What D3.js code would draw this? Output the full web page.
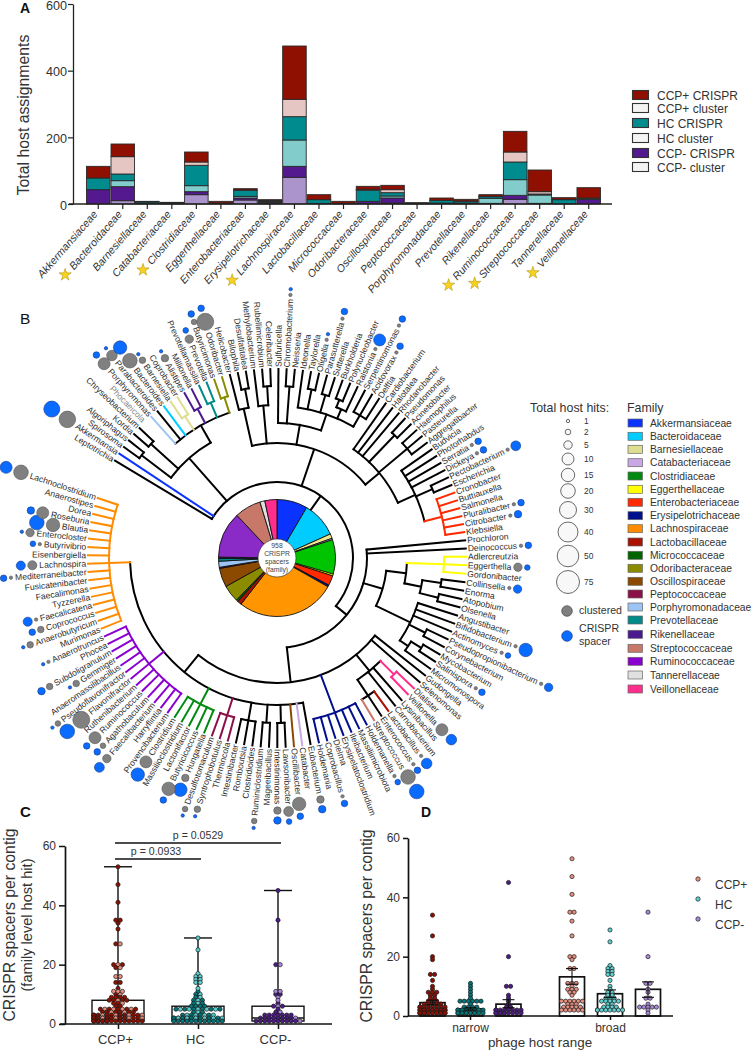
<!DOCTYPE html>
<html><head><meta charset="utf-8">
<script src="https://cdn.jsdelivr.net/npm/d3@7"></script>
<style>html,body{margin:0;background:#fff}svg{display:block}text{font-family:"Liberation Sans",Arial,sans-serif}</style>
</head><body><svg id="c" width="752" height="1050"></svg>
<script>
// ---------- Panel A data
const barFamilies=["Akkermansiaceae","Bacteroidaceae","Barnesiellaceae","Catabacteriaceae","Clostridiaceae","Eggerthellaceae","Enterobacteriaceae","Erysipelotrichaceae","Lachnospiraceae","Lactobacillaceae","Micrococcaceae","Odoribacteraceae","Oscillospiraceae","Peptococcaceae","Porphyromonadaceae","Prevotellaceae","Rikenellaceae","Ruminococcaceae","Streptococcaceae","Tannerellaceae","Veillonellaceae"];
const starred=["Bacteroidaceae","Clostridiaceae","Lachnospiraceae","Ruminococcaceae","Streptococcaceae","Veillonellaceae"];
const ccpMinusCluster=[0,10,0,1,28,0,12,2,80,0,0,1,3,0,0,0,0,14,1,0,0];
const ccpMinusCrispr =[43,42,2,1,9,1,6,3,33,2,1,7,15,0,2,3,2,12,1,1,14];
const hcCluster      =[0,18,0,0,18,0,5,1,79,0,0,0,6,0,1,0,15,47,25,0,0];
const hcCrispr       =[35,20,4,1,61,2,18,3,70,11,1,33,10,1,8,5,5,53,3,12,3];
const ccpPlusCluster =[0,52,0,0,10,0,1,1,52,0,0,3,9,1,0,1,1,30,7,1,1];
const ccpPlusCrispr  =[35,38,2,2,30,5,4,3,160,15,6,9,13,2,7,5,5,62,65,5,31];
const stackKeys=["CCP- cluster","CCP- CRISPR","HC cluster","HC CRISPR","CCP+ cluster","CCP+ CRISPR"];
const stackSeries=[ccpMinusCluster,ccpMinusCrispr,hcCluster,hcCrispr,ccpPlusCluster,ccpPlusCrispr];
const stackColors=["#ab93cc","#54188f","#82cccc","#008b8f","#e6c6c2","#8f1000"];
const legendAOrder=["CCP+ CRISPR","CCP+ cluster","HC CRISPR","HC cluster","CCP- CRISPR","CCP- cluster"];
const yTicksA=[0,200,400,600];

// ---------- Panel B data
const pieFamilies=["Akkermansiaceae","Bacteroidaceae","Barnesiellaceae","Catabacteriaceae","Clostridiaceae","Eggerthellaceae","Enterobacteriaceae","Erysipelotrichaceae","Lachnospiraceae","Lactobacillaceae","Micrococcaceae","Odoribacteraceae","Oscillospiraceae","Peptococcaceae","Porphyromonadaceae","Prevotellaceae","Rikenellaceae","Ruminococcaceae","Streptococcaceae","Tannerellaceae","Veillonellaceae"];
const pieSpacers=[81,94,12,4,91,5,26,5,262,11,5,45,50,3,16,7,4,122,70,13,32];
const legendFamilies=["Akkermansiaceae","Bacteroidaceae","Barnesiellaceae","Catabacteriaceae","Clostridiaceae","Eggerthellaceae","Enterobacteriaceae","Erysipelotrichaceae","Lachnospiraceae","Lactobacillaceae","Micrococcaceae","Odoribacteraceae","Oscillospiraceae","Peptococcaceae","Porphyromonadaceae","Prevotellaceae","Rikenellaceae","Streptococcaceae","Ruminococcaceae","Tannerellaceae","Veillonellaceae"];
const familyColors=["#0a33ff","#00ccff","#dede90","#c9a6e4","#008b10","#ffff00","#ff2a00","#000f8b","#ff8c00","#aa1100","#006400","#8b8b00","#8b4a00","#8b1048","#9cc4f5","#008b8b","#4b1a8f","#c87868","#8a00d0","#e0e0e0","#ff2d8c"];
const hitLegend=[1,2,5,10,15,20,30,40,50,75];
const hitRadius=[1.7,2.8,4.2,6,6.7,7.3,8.5,10,10.8,11.5];
const genusHits=[["Akkermansia",28,26],["Porphyromonas",10,3],["Parabacteroides",8,1],["Bacteroides",20,15],["Barnesiella",3,1],["Alistipes",4,1],["Prevotella",5,2],["Butyricimonas",2,3],["Odoribacter",30,3],["Chromobacterium",1,1],["Oligella",1,1],["Parasutterella",1,3],["Ralstonia",1,10],["Serpentinomonas",1,3],["Acidovorax",1,3],["Serratia",1,3],["Dickeya",1,3],["Pectobacterium",1,7],["Pluralibacter",1,3],["Citrobacter",1,4],["Deinococcus",1,3],["Eggerthella",5,2],["Collinsella",1,5],["Bifidobacterium",1,15],["Actinomyces",1,2],["Pseudopropionibacterium",1,5],["Salinispora",1,3],["Veillonella",10,8],["Lactobacillus",1,8],["Enterococcus",1,3],["Streptococcus",20,20],["Holdemanella",1,2],["Coprobacillus",1,3],["Eubacterium",4,4],["Oscillibacter",15,3],["Lawsonibacter",7,2],["Intestinimonas",4,4],["Ruminiclostridium",2,1],["Syntrophobotulus",3,1],["Desulfotomaculum",2,1],["Hungatella",4,15],["Butyricicoccus",15,3],["Clostridium",10,15],["Faecalibacterium",5,7],["Agathobaculum",2,3],["Ruminococcus",10,3],["Flavonifractor",30,20],["Pseudoflavonifractor",2,1],["Gemmiger",3,1],["Subdoligranulum",3,4],["Anaerotruncus",1,1],["Anaerobutyricum",3,1],["Coprococcus",3,3],["Faecalicatena",1,6],["Mediterraneibacter",1,3],["Lachnospira",6,6],["Butyrivibrio",1,2],["Enterocloster",5,1],["Blautia",15,20],["Roseburia",10,4],["Lachnoclostridium",20,10]];
// tree: N(branch depth, children...), F(family, node), L(leaf, family)
const N=(depth,...kids)=>({depth0:depth,children:kids.map(k=>typeof k==="string"?{name:k}:k)});
const F=(family,node)=>(node.family=family,node);
const L=(name,family)=>({name,family});
const taxonTree=N(76,
 "Leptotrichia",L("Akkermansia","Akkermansiaceae"),
 N(133,N(170,"Spirosoma","Algoriphagus"),N(170,"Kordia","Chryseobacterium"),{name:"Phocaeicola",noBranch:true},
  N(153,L("Porphyromonas","Porphyromonadaceae"),"Parabacteroides",L("Bacteroides","Bacteroidaceae"),
   F("Barnesiellaceae",N(169,"Barnesiella","Coprobacter")),F("Rikenellaceae",N(169,"Alistipes","Millionella")),
   F("Prevotellaceae",N(169,"Prevotellamassilia","Prevotella")),F("Odoribacteraceae",N(169,"Butyricimonas","Odoribacter")))),
 N(115,N(153,"Helicobacter",N(172,"Bilophila","Desulfatitalea")),
  N(153,"Methylobacterium",N(172,"Rubellimicrobium","Celeribacter")),
  N(135,"Sulfuricella",N(172,"Chromobacterium","Neisseria"),
   N(152,"Ideonella",N(172,"Taylorella","Oligella"),N(170,"Parasutterella","Sutterella"),N(162,N(170,"Burkholderia","Polynucleobacter"),"Ralstonia"),N(165,"Serpentinomonas","Acidovorax","Delftia"))),
  N(133,"Cardiobacterium","Halotalea","Rhodanobacter",N(170,"Pseudomonas","Acinetobacter"),N(170,"Haemophilus","Pasteurella","Aggregatibacter"),
   N(152,"Budvicia","Photorhabdus","Serratia","Dickeya",N(170,"Pectobacterium","Escherichia"),
    F("Enterobacteriaceae",N(170,"Cronobacter","Buttiauxella","Salmonella","Pluralibacter","Citrobacter","Klebsiella"))))),
 N(90,"Prochloron","Deinococcus",
  N(110,N(130,F("Eggerthellaceae",N(167,"Adlercreutzia","Eggerthella","Gordonibacter")),N(147,N(166,"Collinsella","Enorma"),N(166,"Atopobium","Olsenella"))),
   N(148,"Angustibacter","Bifidobacterium","Actinomyces",N(166,"Pseudopropionibacterium","Corynebacterium"),N(158,N(170,"Mycobacterium","Salinispora"),"Micromonospora"))),
  N(125,"Gudongella","Selenomonas",
   N(146,F("Veillonellaceae",N(165,"Dialister","Veillonella")),"Lysinibacillus","Carnobacterium",N(165,L("Lactobacillus","Lactobacillaceae"),"Enterococcus",L("Streptococcus","Streptococcaceae"))),
   F("Erysipelotrichaceae",N(165,"Holdemanella","Massiliimicrobiota","Ileibacterium","Erysipelatoclostridium","Dielma","Coprobacillus","Holdemania")),
   N(147,"Eubacterium",L("Catabacter","Catabacteriaceae"),L("Oscillibacter","Oscillospiraceae"),N(165,"Lawsonibacter","Intestinimonas"),N(165,"Mageeibacillus","Ruminiclostridium"),N(165,"Clostridioides","Romboutsia","Intestinibacter"),
    F("Peptococcaceae",N(165,"Thermincola","Syntrophobotulus","Desulfotomaculum")),
    F("Clostridiaceae",N(165,"Hungatella","Butyricicoccus","Lactonifactor","Massilioclostridium","Clostridium")),
    F("Ruminococcaceae",N(166,"Provencibacterium","Harryflintia","Faecalibacterium","Agathobaculum","Ruminococcus","Ruthenibacterium","Flavonifractor","Pseudoflavonifractor","Anaeromassilibacillus","Gemmiger","Subdoligranulum","Phocea","Anaerotruncus")),
    F("Lachnospiraceae",N(168,"Murimonas","Anaerobutyricum","Coprococcus","Faecalicatena","Tyzzerella","Faecalimonas","Fusicatenibacter","Mediterraneibacter","Lachnospira","Eisenbergiella","Butyrivibrio","Enterocloster","Blautia","Roseburia","Dorea","Anaerostipes","Lachnoclostridium"))))));

// ---------- Panels C, D data: [value, count]
const ccpPlusNarrow=[[34,1],[27,1],[20,1],[19,1],[14,2],[12,1],[10,1],[9,1],[8,3],[7,2],[6,2],[5,3],[4,5],[3,8],[2,14],[1,16]];
const hcNarrow=[[11,1],[10,1],[9,1],[8,1],[7,1],[6,1],[5,6],[4,1],[3,4],[2,10],[1,12]];
const ccpMinusNarrow=[[45,1],[20,1],[10,2],[7,1],[6,1],[5,1],[4,1],[3,2],[2,8],[1,10]];
const ccpPlusBroad=[[53,1],[47,1],[41,1],[35,2],[32,1],[27,1],[20,2],[19,1],[16,2],[11,3],[10,1],[9,3],[8,2],[7,1],[5,6],[4,3],[3,5],[2,6]];
const hcBroad=[[29,1],[25,1],[17,1],[16,2],[15,2],[14,2],[12,1],[10,1],[9,1],[8,2],[7,2],[6,3],[5,5],[4,2],[3,4],[2,8]];
const ccpMinusBroad=[[35,1],[20,1],[11,2],[9,1],[8,1],[6,2],[4,1],[3,5],[2,1],[1,1]];
const groupNames=["CCP+","HC","CCP-"];
const boxQ1=[1,1,1], boxMedian=[3,2,2], boxQ3=[8,6,6], boxMax=[53,29,45], boxMin=[1,1,1];
const pValues=["p = 0.0529","p = 0.0933"];
const rangeNames=["narrow","broad"];
const barMeans=[[4.5,2.4,4],[13.2,7.5,9]];
const barErrLow=[[3.8,2.0,2.8],[10.7,6.2,6.3]];
const barErrHigh=[[5.3,2.8,5.5],[16,8.8,11.5]];
const groupDark=["#8f1000","#00787c","#4f1a8a"], groupLight=["#e58f80","#5fd0d0","#a98ad8"];

const svg=d3.select("#c");
const INK="#333";
const panel=(t,x,y,fs,w)=>svg.append("text").attr("x",x).attr("y",y).attr("font-size",fs).attr("font-weight",w).attr("fill","#111").text(t);
panel("A",20,13,14,"bold");panel("B",20,324,15.5,"normal");panel("C",20,817,15,"bold");panel("D",421,817,14,"bold");

// ---------- Panel A
(function(){
 const g=svg.append("g");
 const rows=barFamilies.map((f,i)=>{const o={family:f};stackKeys.forEach((k,j)=>o[k]=stackSeries[j][i]);return o;});
 const x=d3.scaleBand().domain(barFamilies).range([86,601]).paddingInner(0.04).paddingOuter(0.02);
 const y=d3.scaleLinear().domain([0,600]).range([204,4]);
 const stacked=d3.stack().keys(stackKeys)(rows);
 g.selectAll("g.s").data(stacked).join("g").attr("fill",(d,i)=>stackColors[i])
  .selectAll("rect").data(d=>d).join("rect").attr("x",d=>x(d.data.family)).attr("width",x.bandwidth())
  .attr("y",d=>y(d[1])).attr("height",d=>Math.max(0,y(d[0])-y(d[1]))).attr("stroke","#2a2a2a").attr("stroke-width",.9);
 const ay=g.append("g").attr("transform","translate(73,0)").call(d3.axisLeft(y).tickValues(yTicksA).tickSize(5).tickSizeOuter(0));
 ay.select(".domain").attr("stroke","#222").attr("stroke-width",1.3);ay.selectAll("line").attr("stroke","#222").attr("stroke-width",1.2);
 ay.selectAll("text").attr("font-size",12.6).attr("fill",INK).attr("font-family","Liberation Sans").attr("x",-6).attr("dy","0.42em");
 const ax=g.append("g").attr("transform","translate(0,204)").call(d3.axisBottom(x).tickSize(5).tickSizeOuter(0));
 ax.select(".domain").remove();ax.selectAll("line").attr("stroke","#222").attr("stroke-width",1.2);
 g.append("line").attr("x1",69).attr("x2",612).attr("y1",204).attr("y2",204).attr("stroke","#222").attr("stroke-width",1.3);
 const rot=-49;
 ax.selectAll("text").attr("font-size",10.7).attr("font-style","italic").attr("fill",INK).attr("font-family","Liberation Sans")
  .attr("text-anchor","end").attr("transform",`translate(-3,8) rotate(${rot})`).attr("x",0).attr("y",0).attr("dy","0.35em");
 ax.selectAll(".tick").each(function(d){
  if(!starred.includes(d))return;
  const t=d3.select(this).select("text").node(),len=t.getComputedTextLength();
  d3.select(this).append("path").attr("d",d3.symbol(d3.symbolStar,48))
   .attr("transform",`translate(-3,8) rotate(${rot}) translate(${-len-9},0) rotate(${-rot})`)
   .attr("fill","#f8d21c").attr("stroke","#a88a10").attr("stroke-width",.5);
 });
 g.append("text").attr("transform","translate(29,115) rotate(-90)").attr("text-anchor","middle").attr("font-size",15.8).attr("fill",INK).text("Total host assignments");
 const ly=[95,108,123,138,153,167];
 legendAOrder.forEach((k,i)=>{
  const c=k.includes("cluster")?"#f6f4f2":stackColors[stackKeys.indexOf(k)];
  g.append("rect").attr("x",632.5).attr("y",ly[i]-4.5).attr("width",16).attr("height",9).attr("fill",c).attr("stroke","#333").attr("stroke-width",1.1);
  g.append("text").attr("x",657).attr("y",ly[i]+4.5).attr("font-size",12).attr("fill",INK).text(k);
 });
})();

// ---------- Panel B
(function(){
 const cx=277,cy=558,leafR=189,labelR=191,pieR=58.5,holeR=19;
 const g=svg.append("g").attr("transform",`translate(${cx},${cy})`);
 const colorOf=d3.scaleOrdinal().domain(legendFamilies).range(familyColors);
 const root=d3.hierarchy(taxonTree);
 const leaves=root.leaves();
 const angle=d3.scaleLinear().domain([0,60,91,138]).range([-59,89.6,169.8,288.5]);
 leaves.forEach((l,i)=>{l.a=angle(i);});
 root.eachAfter(n=>{
  if(n.children){const c=n.children.filter(k=>!k.data.noBranch);n.a=(c[0].a+c[c.length-1].a)/2;n.r=n.data.depth0;n.span=[c[0].a,c[c.length-1].a];}
  else n.r=leafR;
 });
 root.eachBefore(n=>{n.color=n.data.family?colorOf(n.data.family):(n.parent?n.parent.color:"#000");});
 const rad=a=>(a-90)*Math.PI/180, pt=(r,a)=>[r*Math.cos(rad(a)),r*Math.sin(rad(a))];
 const lines=g.append("g").attr("fill","none").attr("stroke-width",2).attr("stroke-linecap","square");
 const draw=root.descendants().filter(n=>!n.data.noBranch).sort((a,b)=>(a.color==="#000"?0:1)-(b.color==="#000"?0:1));
 draw.forEach(n=>{
  const p=d3.path();
  if(n.parent){const s=pt(n.parent.r,n.a),e=pt(n.r,n.a);p.moveTo(s[0],s[1]);p.lineTo(e[0],e[1]);}
  else{const s=pt(pieR,n.a),e=pt(n.r,n.a);p.moveTo(s[0],s[1]);p.lineTo(e[0],e[1]);}
  if(n.children){const s=pt(n.r,n.span[0]);p.moveTo(s[0],s[1]);p.arc(0,0,n.r,rad(n.span[0]),rad(n.span[1]));}
  lines.append("path").attr("d",p.toString()).attr("stroke",n.color);
 });
 // labels and hit dots
 const rScale=d3.scaleLinear().domain(hitLegend).range(hitRadius);
 const hits=new Map(genusHits.map(d=>[d[0],d]));
 const labels=g.append("g");
 leaves.forEach(l=>{
  const a=l.a,norm=((a%360)+360)%360,right=norm<180;
  const [x,y]=pt(labelR,a);
  const t=labels.append("text").attr("transform",`translate(${x},${y}) rotate(${right?a-90:a+90})`)
   .attr("text-anchor",right?"start":"end").attr("dy","0.34em").attr("font-size",8.6)
   .attr("fill",l.data.noBranch?"#8a8a8a":"#2e2e2e").text(l.data.name);
  const h=hits.get(l.data.name);
  if(h){
   const len=t.node().getComputedTextLength(),rg=rScale(h[1]),rb=rScale(h[2]);
   const rg0=labelR+len+2.4+rg,rb0=rg0+rg+2.4+rb;
   const pg=pt(rg0,a),pb=pt(rb0,a);
   labels.append("circle").attr("cx",pg[0]).attr("cy",pg[1]).attr("r",rg).attr("fill","#808080").attr("stroke","#555").attr("stroke-width",.6);
   labels.append("circle").attr("cx",pb[0]).attr("cy",pb[1]).attr("r",rb).attr("fill","#0a6cff").attr("stroke","#1a3a8a").attr("stroke-width",.6);
  }
 });
 // pie
 const pie=d3.pie().sort(null).value(d=>d)(pieSpacers);
 const arc=d3.arc().innerRadius(0).outerRadius(pieR);
 const pieColor=i=>({Clostridiaceae:"#00c400",Lachnospiraceae:"#ff9500",Ruminococcaceae:"#8a2bc8",Barnesiellaceae:"#f0e88a"}[pieFamilies[i]]||colorOf(pieFamilies[i]));
 g.selectAll("path.p").data(pie).join("path").attr("d",arc).attr("fill",(d,i)=>pieColor(i)).attr("stroke","#111").attr("stroke-width",.9);
 g.append("circle").attr("r",holeR).attr("fill","#fff").attr("stroke","#222").attr("stroke-width",.6);
 ["958","CRISPR","spacers","(family)"].forEach((s,i)=>g.append("text").attr("text-anchor","middle").attr("y",-10.4+i*8.1).attr("font-size",6.8).attr("fill","#444").text(s));
 // legends
 const lg=svg.append("g");
 lg.append("text").attr("x",530).attr("y",412).attr("font-size",12.4).attr("fill",INK).text("Total host hits:");
 lg.append("text").attr("x",627).attr("y",412).attr("font-size",12.4).attr("fill",INK).text("Family");
 const hy=[421,432,445,459,475,491,510,532,556,582];
 hitLegend.forEach((v,i)=>{
  lg.append("circle").attr("cx",568).attr("cy",hy[i]).attr("r",rScale(v)).attr("fill","#f8f8f8").attr("stroke","#444").attr("stroke-width",.8);
  lg.append("text").attr("x",584).attr("y",hy[i]+3).attr("font-size",8.4).attr("fill",INK).text(v);
 });
 lg.append("circle").attr("cx",567).attr("cy",611).attr("r",5.3).attr("fill","#808080").attr("stroke","#444").attr("stroke-width",.7);
 lg.append("circle").attr("cx",567).attr("cy",636).attr("r",5.3).attr("fill","#0a6cff").attr("stroke","#1a3a8a").attr("stroke-width",.7);
 lg.append("text").attr("x",579).attr("y",614).attr("font-size",10.6).attr("fill",INK).text("clustered");
 lg.append("text").attr("x",579).attr("y",632).attr("font-size",10.6).attr("fill",INK).text("CRISPR");
 lg.append("text").attr("x",579).attr("y",645).attr("font-size",10.6).attr("fill",INK).text("spacer");
 const fy=[423,436.3,449.3,462.7,476,489.3,502.3,515.7,528.7,542,555.3,568.3,581.3,594,607,620,634.3,648.3,661.3,675,689];
 legendFamilies.forEach((f,i)=>{
  lg.append("rect").attr("x",628).attr("y",fy[i]-4).attr("width",14.5).attr("height",8).attr("fill",colorOf(f)).attr("stroke","#666").attr("stroke-width",.7);
  lg.append("text").attr("x",650).attr("y",fy[i]+3.6).attr("font-size",10.3).attr("fill",INK).text(f);
 });
})();

// ---------- shared swarm: points on a fixed grid, overflowing onto the same columns
function rowOffsets(n,cols,spacing){
 const out=[],m=Math.min(n,cols);
 for(let i=0;i<n;i++)out.push(((i%m)-(m-1)/2)*spacing);
 return out;
}
function swarm(rows,cols,spacing){
 const out=[];
 rows.forEach(([v,n])=>rowOffsets(n,cols,spacing).forEach(dx=>out.push({v,dx})));
 return out;
}
function merged(a,b){
 const m=new Map();a.forEach(([v,n])=>{m.set(v,(m.get(v)||[0,0]));m.get(v)[0]+=n;});b.forEach(([v,n])=>{m.set(v,(m.get(v)||[0,0]));m.get(v)[1]+=n;});
 return [...m.entries()].map(([v,c])=>({v,dark:c[0],light:c[1]}));
}
const styleAxis=(a,fs)=>{a.select(".domain").attr("stroke","#111").attr("stroke-width",1.7);a.selectAll("line").attr("stroke","#111").attr("stroke-width",1.5);a.selectAll("text").attr("font-size",fs).attr("fill",INK).attr("font-family","Liberation Sans");};

// ---------- Panel C
(function(){
 const g=svg.append("g");
 const x=d3.scalePoint().domain(groupNames).range([118,278]);
 const y=d3.scaleLinear().domain([0,60]).range([1024,846]);
 const narrow=[ccpPlusNarrow,hcNarrow,ccpMinusNarrow],broad=[ccpPlusBroad,hcBroad,ccpMinusBroad];
 groupNames.forEach((n,i)=>{
  const cxx=x(n),hw=26;
  g.append("rect").attr("x",cxx-hw).attr("width",hw*2).attr("y",y(boxQ3[i])).attr("height",y(boxQ1[i])-y(boxQ3[i])).attr("fill","#fff").attr("stroke","#111").attr("stroke-width",1.4);
  g.append("line").attr("x1",cxx).attr("x2",cxx).attr("y1",y(boxMin[i])).attr("y2",y(boxMax[i])).attr("stroke","#111").attr("stroke-width",1.4);
  g.append("line").attr("x1",cxx-14).attr("x2",cxx+14).attr("y1",y(boxMax[i])).attr("y2",y(boxMax[i])).attr("stroke","#111").attr("stroke-width",1.4);
  g.append("line").attr("x1",cxx-hw).attr("x2",cxx+hw).attr("y1",y(boxMedian[i])).attr("y2",y(boxMedian[i])).attr("stroke","#111").attr("stroke-width",1.4);
  merged(narrow[i],broad[i]).forEach(row=>{
   const total=row.dark+row.light,off=rowOffsets(total,12,4.4);
   const every=row.light>0?Math.max(1,Math.round(total/row.light)):0;
   off.forEach((dx,k)=>{
    const isLight=row.dark===0?row.v<30:(every>1&&k%every===every-1);
    g.append("circle").attr("cx",cxx+dx).attr("cy",y(row.v)).attr("r",2.1)
     .attr("fill",isLight?groupLight[i]:groupDark[i]).attr("stroke","#1a1a1a").attr("stroke-width",.7);
   });
  });
 });
 const ay=g.append("g").attr("transform","translate(65,0)").call(d3.axisLeft(y).tickValues([0,20,40,60]).tickSize(6).tickSizeOuter(0));styleAxis(ay,12);
 const ax=g.append("g").attr("transform","translate(0,1024)").call(d3.axisBottom(x).tickSize(5).tickSizeOuter(0));ax.select(".domain").remove();ax.selectAll("line").attr("stroke","#111").attr("stroke-width",1.5);
 ax.selectAll("text").attr("font-size",13).attr("fill",INK).attr("font-family","Liberation Sans").attr("dy","0.95em").attr("x",-3);
 g.append("line").attr("x1",60).attr("x2",332).attr("y1",1024).attr("y2",1024).attr("stroke","#111").attr("stroke-width",1.7);
 [[0,2,843,839],[0,1,859,855]].forEach(([a,b,ly,ty],i)=>{
  const x1=x(groupNames[a])-3,x2=x(groupNames[b])+3;
  g.append("line").attr("x1",x1).attr("x2",x2).attr("y1",ly).attr("y2",ly).attr("stroke","#111").attr("stroke-width",1.4);
  g.append("text").attr("x",i?156:198).attr("y",ty).attr("text-anchor","middle").attr("font-size",10.6).attr("fill",INK).text(pValues[i]);
 });
 g.append("text").attr("transform","translate(15,925) rotate(-90)").attr("text-anchor","middle").attr("font-size",15.8).attr("fill",INK).text("CRISPR spacers per contig");
 g.append("text").attr("transform","translate(32,925) rotate(-90)").attr("text-anchor","middle").attr("font-size",14.6).attr("fill",INK).text("(family level host hit)");
})();

// ---------- Panel D
(function(){
 const g=svg.append("g");
 const x0=d3.scalePoint().domain(rangeNames).range([470,610]);
 const x1=d3.scalePoint().domain(groupNames).range([-38,38]);
 const y=d3.scaleLinear().domain([0,60]).range([1016,838]);
 const sets=[[ccpPlusNarrow,hcNarrow,ccpMinusNarrow],[ccpPlusBroad,hcBroad,ccpMinusBroad]];
 rangeNames.forEach((rn,r)=>groupNames.forEach((gn,i)=>{
  const cxx=x0(rn)+x1(gn)+(r?0:0.5);
  g.append("rect").attr("x",cxx-12.5).attr("width",25).attr("y",y(barMeans[r][i])).attr("height",y(0)-y(barMeans[r][i])).attr("fill","none").attr("stroke","#111").attr("stroke-width",1.7);
  const col=r?groupLight[i]:groupDark[i];
  swarm(sets[r][i],7,4.2).forEach(p=>g.append("circle").attr("cx",cxx+p.dx).attr("cy",y(p.v)).attr("r",2.1).attr("fill",col).attr("stroke","#1a1a1a").attr("stroke-width",.7));
  [barErrLow[r][i],barErrHigh[r][i]].forEach(v=>g.append("line").attr("x1",cxx-6).attr("x2",cxx+6).attr("y1",y(v)).attr("y2",y(v)).attr("stroke","#111").attr("stroke-width",1.1));
  g.append("line").attr("x1",cxx).attr("x2",cxx).attr("y1",y(barErrLow[r][i])).attr("y2",y(barErrHigh[r][i])).attr("stroke","#111").attr("stroke-width",1.1);
 }));
 const ay=g.append("g").attr("transform","translate(408,0)").call(d3.axisLeft(y).tickValues([0,20,40,60]).tickSize(5).tickSizeOuter(0));styleAxis(ay,12);
 const ax=g.append("g").attr("transform","translate(0,1016)").call(d3.axisBottom(x0).tickSize(4).tickSizeOuter(0));ax.select(".domain").remove();ax.selectAll("line").attr("stroke","#111").attr("stroke-width",1.5);
 ax.selectAll("text").attr("font-size",12).attr("fill",INK).attr("font-family","Liberation Sans").attr("dy","0.75em");
 g.append("line").attr("x1",408).attr("x2",673).attr("y1",1016).attr("y2",1016).attr("stroke","#111").attr("stroke-width",1.7);
 g.append("text").attr("x",540).attr("y",1047).attr("text-anchor","middle").attr("font-size",13.4).attr("fill",INK).text("phage host range");
 g.append("text").attr("transform","translate(372,926) rotate(-90)").attr("text-anchor","middle").attr("font-size",15.8).attr("fill",INK).text("CRISPR spacers per contig");
 groupNames.forEach((n,i)=>{
  g.append("circle").attr("cx",698).attr("cy",879+i*20).attr("r",2.2).attr("fill",groupLight[i]).attr("stroke","#222").attr("stroke-width",.7);
  g.append("text").attr("x",715).attr("y",889+i*20).attr("font-size",12).attr("fill",INK).text(n);
 });
})();
</script></body></html>
